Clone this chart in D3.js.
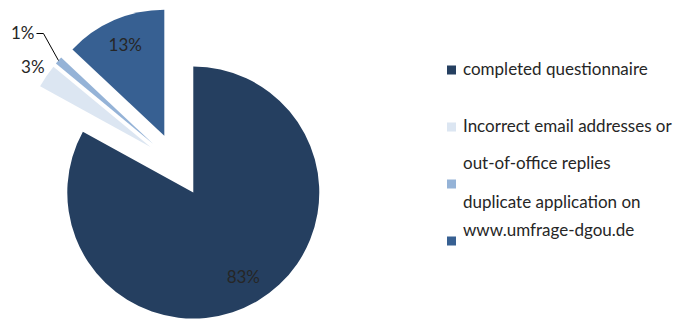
<!DOCTYPE html>
<html>
<head>
<meta charset="utf-8">
<script src="https://cdn.jsdelivr.net/npm/d3@7"></script>
<style>
  html, body { margin: 0; padding: 0; background: #fff; }
  svg { display: block; }
  text { font-family: Lato, "Open Sans", sans-serif; }
</style>
</head>
<body>
<svg id="chart" width="686" height="320"></svg>
<script>
// Survey response breakdown
const categories = [
  "completed questionnaire",
  "Incorrect email addresses or out-of-office replies",
  "duplicate application on www.umfrage-dgou.de",
  ""
];
const values = [83, 3, 1, 13];
const valueLabels = ["83%", "3%", "1%", "13%"];
const colors = ["#253f60", "#dce6f2", "#95b3d7", "#376092"];

const W = 686, H = 320;
const cx = 177, cy = 165, R = 126, explode = 32;
const fontSize = 17;
const textColor = "#262626";

const svg = d3.select("#chart");

const pie = d3.pie().sort(null).value(d => d)(values);
const arc = d3.arc().innerRadius(0).outerRadius(R);
const polar = (a, r) => [Math.sin(a) * r, -Math.cos(a) * r];

const g = svg.append("g").attr("transform", `translate(${cx},${cy})`);

const slices = g.selectAll("g.slice")
  .data(pie)
  .join("g")
  .attr("class", "slice")
  .attr("transform", d => {
    const m = (d.startAngle + d.endAngle) / 2;
    const [x, y] = polar(m, explode);
    return `translate(${x},${y})`;
  });

slices.append("path")
  .attr("d", arc)
  .attr("fill", (d, i) => colors[i]);

// value labels: large slices inside, thin slices outside
slices.each(function(d, i) {
  const s = d3.select(this);
  const m = (d.startAngle + d.endAngle) / 2;
  if (i === 0 || i === 3) {
    const [x, y] = polar(m, R * 0.78);
    s.append("text")
      .attr("x", x).attr("y", y)
      .attr("dy", "0.35em")
      .attr("text-anchor", "middle")
      .attr("font-size", fontSize)
      .attr("fill", textColor)
      .text(valueLabels[i]);
  } else if (i === 1) {
    const [x, y] = polar(m, R * 1.13);
    s.append("text")
      .attr("x", x).attr("y", y)
      .attr("dy", "0.35em")
      .attr("text-anchor", "middle")
      .attr("font-size", fontSize)
      .attr("fill", textColor)
      .text(valueLabels[i]);
  } else {
    const [ax, ay] = polar(m, R);
    const ex = ax - 15, ey = ay - 27;
    const tx = ex - 7;
    s.append("path")
      .attr("d", `M${ax},${ay}L${ex},${ey}L${tx},${ey}`)
      .attr("fill", "none")
      .attr("stroke", "#000")
      .attr("stroke-width", 1);
    s.append("text")
      .attr("x", tx - 2).attr("y", ey)
      .attr("dy", "0.35em")
      .attr("text-anchor", "end")
      .attr("font-size", fontSize)
      .attr("fill", textColor)
      .text(valueLabels[i]);
  }
});

// legend
const legendX = 447, sq = 9;
const legendRowY = [70, 127, 184, 241];
const legendLineY = [[75], [132, 169], [208, 236], []];
const maxLine = 232;

const measure = svg.append("text").attr("font-size", fontSize).attr("visibility", "hidden");
function wrap(str) {
  if (!str) return [];
  const words = str.split(" ");
  const lines = [];
  let cur = "";
  words.forEach(w => {
    const trial = cur ? cur + " " + w : w;
    measure.text(trial);
    if (cur && measure.node().getComputedTextLength() > maxLine) {
      lines.push(cur);
      cur = w;
    } else cur = trial;
  });
  if (cur) lines.push(cur);
  return lines;
}

const legend = svg.append("g");
categories.forEach((c, i) => {
  legend.append("rect")
    .attr("x", legendX)
    .attr("y", legendRowY[i] - sq / 2)
    .attr("width", sq).attr("height", sq)
    .attr("fill", colors[i]);
  wrap(c).forEach((line, j) => {
    legend.append("text")
      .attr("x", legendX + 16)
      .attr("y", legendLineY[i][j])
      .attr("font-size", fontSize)
      .attr("fill", textColor)
      .text(line);
  });
});
measure.remove();
</script>
</body>
</html>
